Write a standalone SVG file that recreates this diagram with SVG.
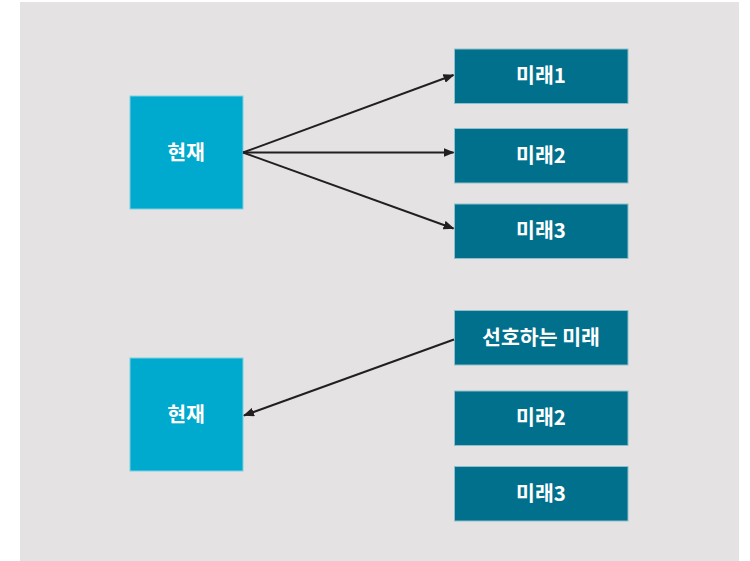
<svg xmlns="http://www.w3.org/2000/svg" width="750" height="561" viewBox="0 0 750 561">
<defs>
<style>
.now{fill:#00aace;stroke:#7fcfe0;stroke-width:1}
.fut{fill:#00708c;stroke:#8fbfcc;stroke-width:1}
.t{fill:#fff;font-family:"Noto Sans CJK KR","Noto Sans",sans-serif;font-weight:700;font-size:20.5px;text-anchor:middle;dominant-baseline:central}
.c{stroke:#231f20;stroke-width:2;fill:none;marker-end:url(#ah)}
</style>
<marker id="ah" markerWidth="11" markerHeight="9" refX="10" refY="4.5" orient="auto" markerUnits="userSpaceOnUse">
<path d="M0,0 L11,4.5 L0,9 Z" fill="#231f20"/>
</marker>
</defs>
<rect x="0" y="0" width="750" height="561" fill="#fff"/>
<rect x="20" y="2" width="719" height="559" fill="#e4e2e3"/>
<g id="now1"><rect class="now" x="130" y="96" width="113" height="113"/><text class="t" x="186" y="151">현재</text></g>
<g id="f1"><rect class="fut" x="454.5" y="49" width="173.5" height="54.5"/><text class="t" x="541" y="74">미래1</text></g>
<g id="f2"><rect class="fut" x="454.5" y="128.5" width="173.5" height="54.5"/><text class="t" x="541" y="153.5">미래2</text></g>
<g id="f3"><rect class="fut" x="454.5" y="204" width="173.5" height="54.5"/><text class="t" x="541" y="229">미래3</text></g>
<g id="now2"><rect class="now" x="130" y="358" width="113" height="113"/><text class="t" x="186" y="413">현재</text></g>
<g id="pref"><rect class="fut" x="454.5" y="310.5" width="173.5" height="54.5"/><text class="t" x="541" y="335.5">선호하는 미래</text></g>
<g id="f2b"><rect class="fut" x="454.5" y="391" width="173.5" height="54.5"/><text class="t" x="541" y="416">미래2</text></g>
<g id="f3b"><rect class="fut" x="454.5" y="466.5" width="173.5" height="54.5"/><text class="t" x="541" y="491.5">미래3</text></g>
<g id="connectors">
<line class="c" x1="243" y1="152.5" x2="453.5" y2="75"/>
<line class="c" x1="243" y1="152.5" x2="453.5" y2="152.5"/>
<line class="c" x1="243" y1="152.5" x2="453.5" y2="228.5"/>
<line class="c" x1="454" y1="339.5" x2="244" y2="415.5"/>
</g>
</svg>
